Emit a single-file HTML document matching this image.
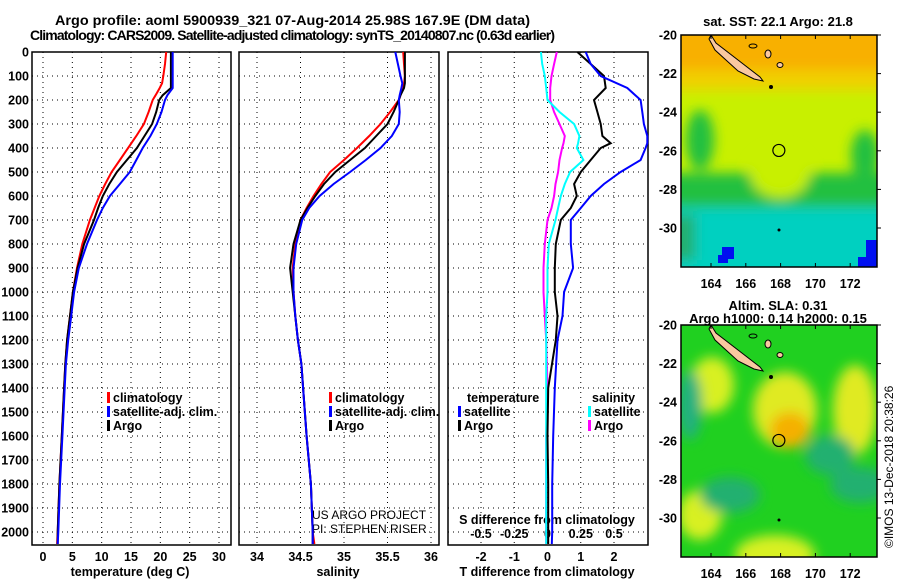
<!DOCTYPE html>
<html><head><meta charset="utf-8"><style>
body{margin:0;background:#fff;}
svg text{font-family:"Liberation Sans",sans-serif;font-weight:bold;font-size:12.5px;fill:#000;}
</style></head><body>
<svg id="c" width="900" height="580" viewBox="0 0 900 580" xmlns="http://www.w3.org/2000/svg">
<defs>
<filter id="bl" x="-50%" y="-50%" width="200%" height="200%"><feGaussianBlur stdDeviation="6"/></filter>
<clipPath id="m1"><rect x="681" y="35" width="196" height="232"/></clipPath>
<clipPath id="m2"><rect x="681" y="325" width="196" height="232"/></clipPath>
</defs>
<text x="55" y="25" textLength="475" lengthAdjust="spacingAndGlyphs" style="font-size:13.5px">Argo profile: aoml 5900939_321 07-Aug-2014 25.98S 167.9E (DM data)</text>
<text x="30" y="40" textLength="525" lengthAdjust="spacing" style="font-size:14px">Climatology: CARS2009. Satellite-adjusted climatology: synTS_20140807.nc (0.63d earlier)</text>
<g id="g"></g>
</svg>
<script>
// depth levels (m) for profiles
const depths=[0,50,100,130,150,180,200,250,300,350,400,450,500,550,600,650,700,800,900,1000,1100,1200,1300,1400,1600,1800,2000,2050];
const tempClim=[21.0,20.8,20.5,20.3,19.9,19.2,18.7,18.0,17.2,15.9,14.5,13.1,11.7,10.6,9.6,8.8,8.0,6.7,5.8,5.1,4.6,4.1,3.8,3.6,3.2,2.8,2.5,2.4];
const tempSat=[22.1,22.1,22.1,22.1,22.1,21.2,20.8,20.2,19.4,18.3,17.0,15.9,14.8,13.1,11.4,10.2,9.2,7.5,6.1,5.3,4.8,4.3,3.9,3.7,3.3,2.9,2.6,2.5];
const tempArgo=[21.8,21.8,21.8,21.8,21.8,20.4,19.8,19.3,18.6,17.3,16.0,14.3,12.6,11.3,10.2,9.4,8.7,7.0,5.9,5.1,4.6,4.1,3.8,3.6,3.2,2.8,2.5,2.5];
const salClim=[35.68,35.69,35.70,35.69,35.67,35.65,35.63,35.53,35.42,35.29,35.15,35.0,34.84,34.74,34.65,34.57,34.5,34.44,34.41,34.42,34.44,34.47,34.51,34.53,34.57,34.62,34.64,34.66];
const salSat=[35.59,35.62,35.65,35.67,35.66,35.64,35.63,35.64,35.63,35.55,35.42,35.25,35.07,34.88,34.72,34.6,34.52,34.45,34.42,34.42,34.44,34.47,34.51,34.53,34.57,34.62,34.64,34.64];
const salArgo=[35.70,35.70,35.70,35.70,35.69,35.65,35.63,35.57,35.5,35.37,35.24,35.07,34.9,34.77,34.67,34.58,34.5,34.42,34.38,34.41,34.44,34.47,34.51,34.53,34.57,34.62,34.64,34.64];
// difference panel
const dDepths=[0,50,100,150,200,250,300,350,380,400,450,500,550,600,650,700,800,900,1000,1100,1200,1400,1600,1800,2000,2050];
const tDiffSat=[1.15,1.3,1.6,2.4,2.8,2.85,2.9,3.0,3.0,2.95,2.8,2.2,1.7,1.3,1.0,0.7,0.7,0.77,0.5,0.45,0.3,0.22,0.17,0.14,0.14,0.13];
const tDiffArgo=[0.9,1.3,1.7,1.75,1.4,1.5,1.6,1.65,1.9,1.6,1.3,1.0,0.8,0.88,0.7,0.4,0.25,0.22,0.22,0.3,0.25,0.02,0.0,0.02,0.02,0.02];
const sDiffSat=[-0.05,-0.04,-0.02,-0.01,0.0,0.09,0.2,0.24,0.23,0.22,0.27,0.17,0.13,0.1,0.08,0.06,0.01,0.0,0.0,-0.01,-0.01,-0.01,-0.01,-0.01,-0.01,-0.01];
const sDiffArgo=[0.07,0.05,0.03,0.02,0.02,0.05,0.09,0.13,0.12,0.11,0.09,0.08,0.06,0.05,0.03,0.0,-0.02,-0.03,-0.03,-0.02,-0.01,0.0,-0.01,-0.01,-0.01,-0.01];
const depthTicks=[0,100,200,300,400,500,600,700,800,900,1000,1100,1200,1300,1400,1500,1600,1700,1800,1900,2000];
const tempTicks=[0,5,10,15,20,25,30];
const salTicks=[34,34.5,35,35.5,36];
const tdTicks=[-2,-1,0,1,2];
const sdTicks=[-0.5,-0.25,0,0.25,0.5];
const lonTicks=[164,166,168,170,172];
const latTicks=[-20,-22,-24,-26,-28,-30];

const NS='http://www.w3.org/2000/svg';
const G=document.getElementById('g');
function mk(tag,at,parent){const e=document.createElementNS(NS,tag);for(const k in at)e.setAttribute(k,at[k]);(parent||G).appendChild(e);return e;}
const Y0=52,YS=0.24,TOP=52,BOT=545;
const yD=d=>Y0+d*YS;
const P1={l:32,r:231},P2={l:239,r:439},P3={l:448,r:648};
const xT=v=>43+v*(176/30);
const xS=v=>257+(v-34)*87;
const xTD=v=>547.5+v*33.25;
const xSD=v=>547.5+v*133;

function grid(p,xs,fx,name){
  depthTicks.forEach(d=>{const l=mk('line',{x1:p.l,x2:p.r,y1:yD(d),y2:yD(d),stroke:'#000','stroke-width':1,'stroke-dasharray':'1,4'});
  });
  xs.forEach(v=>{const l=mk('line',{x1:fx(v),x2:fx(v),y1:TOP,y2:BOT,stroke:'#000','stroke-width':1,'stroke-dasharray':'1,4'});
  });
  const r=mk('rect',{x:p.l,y:TOP,width:p.r-p.l,height:BOT-TOP,fill:'none',stroke:'#000','stroke-width':1.5});
  
}
grid(P1,tempTicks,xT,'temperature-panel');
grid(P2,salTicks,xS,'salinity-panel');
grid(P3,tdTicks,xTD,'difference-panel');
depthTicks.forEach(d=>{const t=mk('text',{x:29,y:yD(d)+4.5,'text-anchor':'end'});t.textContent=d;
});
function xlab(arr,fx,y,name,fmt){arr.forEach(v=>{const t=mk('text',{x:fx(v),y:y,'text-anchor':'middle'});t.textContent=fmt?fmt(v):v;
});}
xlab(tempTicks,xT,561,'temperature-tick-label');
xlab(salTicks,xS,561,'salinity-tick-label');
xlab(tdTicks,xTD,561,'t-diff-tick-label');
xlab(sdTicks,xSD,538,'s-diff-tick-label',v=>v===0?'0':String(v));
function tx(x,y,s,name,anchor,extra){const t=mk('text',Object.assign({x:x,y:y,'text-anchor':anchor||'start'},extra||{}));t.textContent=s;
return t;}
tx(130,576,'temperature (deg C)','temperature-axis-title','middle');
tx(338,576,'salinity','salinity-axis-title','middle');
tx(547,576,'T difference from climatology','t-diff-axis-title','middle');
tx(547,524,'S difference from climatology','s-diff-axis-title','middle');
tx(312,519,'US ARGO PROJECT','credit-project','start',{style:'font-weight:normal;font-size:12px'});
tx(312,533,'PI: STEPHEN RISER','credit-pi','start',{style:'font-weight:normal;font-size:12px'});

function line(xs,ds,fx,col,w,name){
  const pts=xs.map((v,i)=>fx(v).toFixed(1)+','+yD(ds[i]).toFixed(1)).join(' ');
  const p=mk('polyline',{points:pts,fill:'none',stroke:col,'stroke-width':w});
  
}
line(tempClim,depths,xT,'#f00',2,'temperature-climatology-line');
line(tempArgo,depths,xT,'#000',2,'temperature-argo-line');
line(tempSat,depths,xT,'#00f',2,'temperature-satellite-line');
line(salClim,depths,xS,'#f00',2,'salinity-climatology-line');
line(salArgo,depths,xS,'#000',2,'salinity-argo-line');
line(salSat,depths,xS,'#00f',2,'salinity-satellite-line');
line(sDiffArgo,dDepths,xSD,'#f0f',2,'s-diff-argo-line');
line(sDiffSat,dDepths,xSD,'#0ff',2,'s-diff-satellite-line');
line(tDiffArgo,dDepths,xTD,'#000',2,'t-diff-argo-line');
line(tDiffSat,dDepths,xTD,'#00f',2,'t-diff-satellite-line');

function leg(x,y,col,label,name){
  const r=mk('rect',{x:x,y:y-10,width:3,height:11,fill:col});
  tx(x+6,y,label,name);
}
[[P1,107],[P2,329]].forEach(([p,x],k)=>{
  const n=k?'salinity':'temperature';
  leg(x,402,'#f00','climatology',n+'-legend-climatology');
  leg(x,416,'#00f','satellite-adj. clim.',n+'-legend-satellite');
  leg(x,430,'#000','Argo',n+'-legend-argo');
});
tx(467,402,'temperature','legend-temperature-heading');
leg(458,416,'#00f','satellite','legend-t-satellite');
leg(458,430,'#000','Argo','legend-t-argo');
tx(592,402,'salinity','legend-salinity-heading');
leg(588,416,'#0ff','satellite','legend-s-satellite');
leg(588,430,'#f0f','Argo','legend-s-argo');

// maps
const xLon=v=>711+(v-164)*17.4;
function map(top,clip,blobs,rects,bg,solid,name){
  const g=mk('g',{'clip-path':'url(#'+clip+')'});
  
  mk('rect',{x:681,y:top,width:196,height:232,fill:bg},g);
  const gb=mk('g',{filter:'url(#bl)'},g);
  rects.forEach(b=>mk('rect',{x:b[0],y:top+b[1],width:b[2],height:b[3],fill:b[4]},gb));
  blobs.forEach(b=>mk('ellipse',{cx:b[0],cy:top+b[1],rx:b[2],ry:b[3],fill:b[4]},gb));
  solid.forEach(b=>mk('rect',{x:b[0],y:top+b[1],width:b[2],height:b[3],fill:b[4]},g));
  const yLat=v=>top+(-20-v)*19.3;
  const isl=mk('polygon',{points:[[711,top],[716,top+8],[738,top+25],[760,top+42],[763,top+46],[754,top+44],[738,top+36],[715,top+15],[709,top+4]].map(p=>p.join(',')).join(' '),fill:'#f9c8a0',stroke:'#000','stroke-width':1},g);
  
  mk('ellipse',{cx:768,cy:top+19,rx:3,ry:4,fill:'#f9c8a0',stroke:'#000'},g);
  mk('ellipse',{cx:780,cy:top+30,rx:3,ry:2.5,fill:'#f9c8a0',stroke:'#000'},g);
  mk('ellipse',{cx:753,cy:top+11,rx:4,ry:2,fill:'none',stroke:'#000'},g);
  mk('circle',{cx:771,cy:top+52,r:2,fill:'#000'},g);
  mk('circle',{cx:779,cy:top+195,r:1.5,fill:'#000'},g);
  const c=mk('circle',{cx:xLon(167.9),cy:yLat(-25.98),r:6,fill:'none',stroke:'#000','stroke-width':1.2},g);
  
  const fr=mk('rect',{x:681,y:top,width:196,height:232,fill:'none',stroke:'#000','stroke-width':1.5});
  
  lonTicks.forEach(v=>{mk('line',{x1:xLon(v),x2:xLon(v),y1:top,y2:top+4,stroke:'#000'});mk('line',{x1:xLon(v),x2:xLon(v),y1:top+232,y2:top+228,stroke:'#000'});
    tx(xLon(v),top+253,String(v),name+'-lon-label','middle');});
  latTicks.forEach(v=>{mk('line',{x1:877,x2:881,y1:yLat(v),y2:yLat(v),stroke:'#000'});
    tx(677,yLat(v)+4.5,String(v),name+'-lat-label','end');});
}
map(35,'m1',[
 [780,138,30,25,'#c8f000'],[700,105,14,30,'#20c040'],[865,120,14,25,'#20c040']
],[
 [660,-20,240,55,'#f8b000'],[660,35,240,20,'#f0d000'],
 [660,138,240,34,'#20c040'],[660,172,240,80,'#00d0c0'],[670,180,25,45,'#20b070']
],'#c8f000',[[722,212,12,12,'#0010f0'],[718,220,10,8,'#0010f0'],[866,205,11,27,'#0010f0'],[858,222,8,10,'#0010f0']],'top-sst-map');
map(325,'m2',[
 [785,85,32,38,'#e0ea20'],[790,105,20,18,'#f5b000'],[712,60,22,28,'#d8f020'],[855,85,22,45,'#e0ea20'],
 [775,230,40,20,'#d8f020'],[700,190,22,25,'#d8f020'],[690,80,12,35,'#20b080'],[860,160,30,18,'#20b070'],[730,170,30,18,'#20b070'],[830,130,25,20,'#20b070']
],[],'#20d020',[],'bottom-sla-map');
tx(778,26,'sat. SST: 22.1 Argo: 21.8','sst-map-title','middle',{style:'font-size:13px'});
tx(778,310,'Altim. SLA: 0.31','sla-map-title-1','middle',{style:'font-size:13px'});
tx(778,323,'Argo h1000: 0.14 h2000: 0.15','sla-map-title-2','middle',{style:'font-size:13px'});
tx(893,548,'©IMOS 13-Dec-2018 20:38:26','timestamp','start',{transform:'rotate(-90 893 548)',style:'font-weight:normal;font-size:12px'});
</script>
</body></html>
